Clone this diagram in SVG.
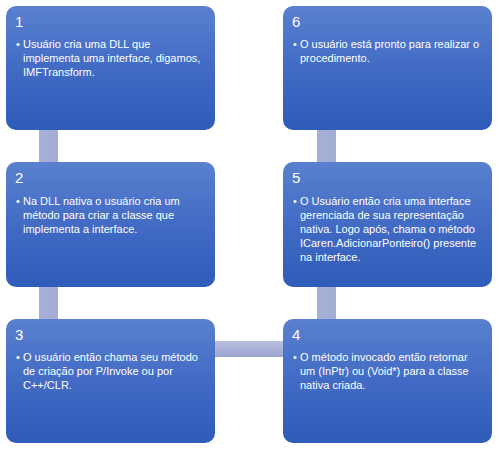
<svg xmlns="http://www.w3.org/2000/svg" width="499" height="453" viewBox="0 0 499 453">
<defs>
<linearGradient id="gBox" x1="0" y1="0" x2="0" y2="1">
<stop offset="0" stop-color="#5a80cf"/>
<stop offset="0.55" stop-color="#3f69c3"/>
<stop offset="1" stop-color="#2f5cb9"/>
</linearGradient>
<linearGradient id="gBarV" x1="0" y1="0" x2="1" y2="0">
<stop offset="0" stop-color="#a7b0d6"/>
<stop offset="1" stop-color="#a2acd4"/>
</linearGradient>
<linearGradient id="gBarH" x1="0" y1="0" x2="0" y2="1">
<stop offset="0" stop-color="#b9c0df"/>
<stop offset="0.5" stop-color="#aab2d8"/>
<stop offset="1" stop-color="#98a3d0"/>
</linearGradient>
<style>
.box{fill:url(#gBox);}
.num{font-family:"Liberation Sans",Arial,sans-serif;font-size:15px;fill:#ffffff;}
.txt{font-family:"Liberation Sans",Arial,sans-serif;font-size:11px;fill:#ffffff;}
</style>
</defs>
<rect width="499" height="453" fill="#ffffff"/>
<g id="connectors">
<rect x="39" y="128" width="19" height="36" fill="url(#gBarV)"/>
<rect x="39" y="285" width="19" height="36" fill="url(#gBarV)"/>
<rect x="213" y="341" width="72" height="16" fill="url(#gBarH)"/>
<rect x="317" y="285" width="19" height="36" fill="url(#gBarV)"/>
<rect x="317" y="128" width="19" height="36" fill="url(#gBarV)"/>
</g>
<g id="node1">
<rect class="box" x="6" y="6" width="209" height="124" rx="10"/>
<text class="num" x="15" y="27">1</text>
<text class="txt" x="16" y="48">•</text>
<text class="txt"><tspan x="23" y="48">Usuário cria uma DLL que</tspan><tspan x="23" y="62">implementa uma interface, digamos,</tspan><tspan x="23" y="76">IMFTransform.</tspan></text>
</g>
<g id="node2">
<rect class="box" x="6" y="162" width="209" height="125" rx="10"/>
<text class="num" x="15" y="183">2</text>
<text class="txt" x="16" y="205">•</text>
<text class="txt"><tspan x="23" y="205">Na DLL nativa o usuário cria um</tspan><tspan x="23" y="219">método para criar a classe que</tspan><tspan x="23" y="233">implementa a interface.</tspan></text>
</g>
<g id="node3">
<rect class="box" x="6" y="319" width="209" height="124" rx="10"/>
<text class="num" x="15" y="340">3</text>
<text class="txt" x="16" y="361">•</text>
<text class="txt"><tspan x="23" y="361">O usuário então chama seu método</tspan><tspan x="23" y="375">de criação por P/Invoke ou por</tspan><tspan x="23" y="389">C++/CLR.</tspan></text>
</g>
<g id="node4">
<rect class="box" x="283" y="319" width="209" height="124" rx="10"/>
<text class="num" x="292" y="340">4</text>
<text class="txt" x="293" y="361">•</text>
<text class="txt"><tspan x="300" y="361">O método invocado então retornar</tspan><tspan x="300" y="375">um (InPtr) ou (Void*) para a classe</tspan><tspan x="300" y="389">nativa criada.</tspan></text>
</g>
<g id="node5">
<rect class="box" x="283" y="162" width="209" height="125" rx="10"/>
<text class="num" x="292" y="183">5</text>
<text class="txt" x="293" y="205">•</text>
<text class="txt"><tspan x="300" y="205">O Usuário então cria uma interface</tspan><tspan x="300" y="219">gerenciada de sua representação</tspan><tspan x="300" y="233">nativa. Logo após, chama o método</tspan><tspan x="300" y="247">ICaren.AdicionarPonteiro() presente</tspan><tspan x="300" y="261">na interface.</tspan></text>
</g>
<g id="node6">
<rect class="box" x="283" y="6" width="209" height="124" rx="10"/>
<text class="num" x="292" y="27">6</text>
<text class="txt" x="293" y="48">•</text>
<text class="txt"><tspan x="300" y="48">O usuário está pronto para realizar o</tspan><tspan x="300" y="62">procedimento.</tspan></text>
</g>
</svg>
